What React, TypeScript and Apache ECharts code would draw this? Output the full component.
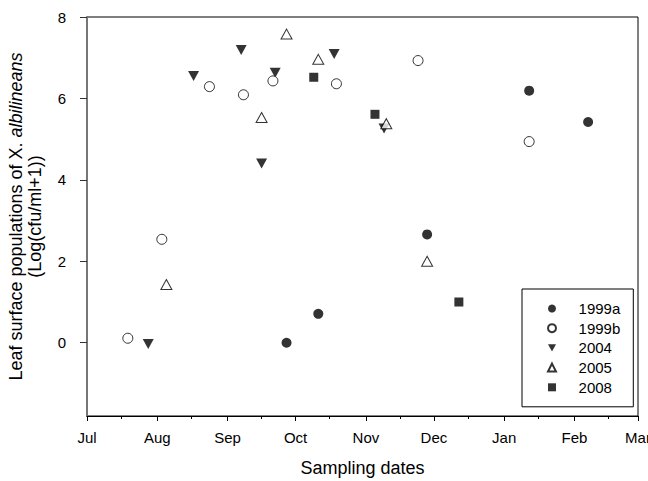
import React, { useEffect, useRef } from 'react';
import * as echarts from 'echarts';

const monthLabels = ['Jul', 'Aug', 'Sep', 'Oct', 'Nov', 'Dec', 'Jan', 'Feb', 'Mar'];
const monthNumbers = [7, 8, 9, 10, 11, 12, 1, 2, 3];
const monthLengths = [31, 31, 30, 31, 30, 31, 31, 28];
const yTicks = [0, 2, 4, 6, 8];

const dates1999a = ['09-27', '10-11', '11-28', '01-12', '02-07'];
const values1999a = [0.0, 0.71, 2.66, 6.19, 5.42];

const dates1999b = ['07-19', '08-03', '08-24', '09-08', '09-21', '10-19', '11-24', '01-12'];
const values1999b = [0.11, 2.54, 6.29, 6.09, 6.43, 6.36, 6.93, 4.94];

const dates2004 = ['07-28', '08-17', '09-07', '09-16', '09-22', '10-18', '11-09'];
const values2004 = [-0.03, 6.55, 7.19, 4.4, 6.63, 7.09, 5.26];

const dates2005 = ['08-05', '09-16', '09-27', '10-11', '11-10', '11-28'];
const values2005 = [1.43, 5.53, 7.58, 6.96, 5.38, 2.0];

const dates2008 = ['10-09', '11-05', '12-12'];
const values2008 = [6.52, 5.61, 1.0];

const monthStarts: number[] = [0];
monthLengths.forEach((len, i) => monthStarts.push(monthStarts[i] + len));
const minorTicks = monthLengths.map((len, i) => monthStarts[i] + 15);

const dayOf = (md: string) => {
  const [m, d] = md.split('-').map(Number);
  const idx = monthNumbers.indexOf(m);
  return monthStarts[idx] + d - 1;
};
const pts = (dates: string[], vals: number[]) => dates.map((d, i) => [dayOf(d), vals[i]]);

const FONT = "'Liberation Sans', Arial, Helvetica, sans-serif";
const DOWN_TRIANGLE = 'path://M0,0L10,0L5,9Z';

export default function App() {
  const ref = useRef<HTMLDivElement>(null);
  useEffect(() => {
    if (!ref.current) return;
    const chart = echarts.init(ref.current, null, { renderer: 'svg' });
    const gridPos = { left: 87, top: 17, right: 10, bottom: 65, containLabel: false, outerBoundsMode: 'none' };
    const filled = { color: '#000' };
    const open = { color: '#fff', borderColor: '#000', borderWidth: 1 };
    chart.setOption({
      animation: false,
      backgroundColor: '#fff',
      textStyle: { fontFamily: FONT },
      grid: [
        { ...gridPos, show: true, borderColor: '#000', borderWidth: 1, backgroundColor: 'transparent' },
        { ...gridPos, show: false },
      ],
      xAxis: [
        {
          type: 'value', gridIndex: 0, min: 0, max: monthStarts[monthStarts.length - 1],
          axisLine: { show: true, onZero: false, lineStyle: { color: '#000', width: 1 } },
          axisTick: { show: true, customValues: monthStarts, length: 5, lineStyle: { color: '#000' } },
          axisLabel: {
            customValues: monthStarts, margin: 14, fontSize: 15, color: '#000', fontFamily: FONT,
            formatter: (v: number) => monthLabels[monthStarts.indexOf(Math.round(v))] ?? '',
          },
          splitLine: { show: false },
          name: 'Sampling dates', nameLocation: 'middle', nameGap: 43,
          nameTextStyle: { fontSize: 18, color: '#000', fontFamily: FONT },
        },
        {
          type: 'value', gridIndex: 1, min: 0, max: monthStarts[monthStarts.length - 1],
          axisLine: { show: false, onZero: false },
          axisTick: { show: true, customValues: minorTicks, length: 3, lineStyle: { color: '#000' } },
          axisLabel: { show: false },
          splitLine: { show: false },
        },
      ],
      yAxis: [
        {
          type: 'value', gridIndex: 0, min: -1.8, max: 8,
          axisLine: { show: true, onZero: false, lineStyle: { color: '#777', width: 2 } },
          axisTick: { show: true, customValues: yTicks, length: 7, lineStyle: { color: '#333' } },
          axisLabel: { customValues: yTicks, margin: 21, fontSize: 15, color: '#000', fontFamily: FONT },
          splitLine: { show: false },
          name: '{n|Leaf surface populations of X. }{i|albilineans}\n{n|(Log(cfu/ml+1))}',
          nameLocation: 'middle', nameGap: 43, nameRotate: 90,
          nameTextStyle: {
            color: '#000', fontFamily: FONT,
            rich: {
              n: { fontSize: 18, lineHeight: 19, color: '#000', fontFamily: FONT },
              i: { fontSize: 18, lineHeight: 19, color: '#000', fontStyle: 'italic', fontFamily: FONT },
            },
          },
        },
        {
          type: 'value', gridIndex: 1, min: -1.8, max: 8, show: false,
        },
      ],
      legend: {
        orient: 'vertical', left: 522, top: 289, padding: [12, 13, 12, 25],
        itemWidth: 8, itemHeight: 8, itemGap: 4.7,
        borderColor: '#000', borderWidth: 1,
        formatter: (name: string) => `{g|}{t|${name}}`,
        textStyle: {
          fontSize: 15, color: '#000', fontFamily: FONT, lineHeight: 15,
          rich: {
            g: { width: 17.6, height: 15 },
            t: { fontSize: 15, color: '#000', fontFamily: FONT, lineHeight: 15 },
          },
        },
        data: ['1999a', '1999b', '2004', '2005', '2008'],
      },
      series: [
        { name: '1999a', type: 'scatter', symbol: 'circle', symbolSize: 10, itemStyle: filled, data: pts(dates1999a, values1999a), z: 2 },
        { name: '1999b', type: 'scatter', symbol: 'circle', symbolSize: 10, itemStyle: open, data: pts(dates1999b, values1999b), z: 4 },
        { name: '2004', type: 'scatter', symbol: DOWN_TRIANGLE, symbolSize: [11, 10], itemStyle: filled, data: pts(dates2004, values2004), z: 3 },
        { name: '2005', type: 'scatter', symbol: 'triangle', symbolSize: [11, 10], itemStyle: open, data: pts(dates2005, values2005), z: 3 },
        { name: '2008', type: 'scatter', symbol: 'rect', symbolSize: 9, itemStyle: filled, data: pts(dates2008, values2008), z: 3 },
      ],
    });
    return () => chart.dispose();
  }, []);
  return <div ref={ref} style={{ position: 'absolute', left: 0, top: 0, width: 648, height: 481 }} />;
}
